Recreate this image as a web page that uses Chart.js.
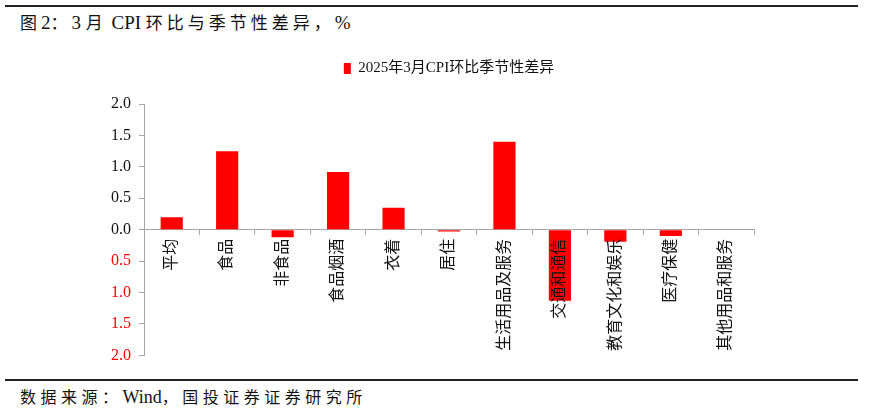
<!DOCTYPE html>
<html>
<head>
<meta charset="utf-8">
<script src="https://cdn.jsdelivr.net/npm/chart.js@4"></script>
<style>
  html, body { margin: 0; padding: 0; background: #fff; overflow: hidden; }
  body { width: 875px; height: 410px; position: relative; font-family: "Liberation Serif", "Noto Sans CJK SC", serif; }
  .rule { position: absolute; left: 5px; width: 853px; height: 2px; background: #222; }
  #title { position: absolute; left: 20px; top: 9px; font-size: 17px; color: #111; white-space: pre; }
  #title .cj { letter-spacing: 4px; }
  #title .la { font-size: 19px; }
  #source { position: absolute; left: 20px; top: 384px; font-size: 16px; color: #111; white-space: pre; }
  #source .cj { letter-spacing: 4.5px; }
  #source .la { font-size: 18px; }
  #wrap { position: absolute; left: 0; top: 51px; width: 875px; height: 322px; }
</style>
</head>
<body>
<div class="rule" style="top:5px"></div>
<div id="title"><span class="cj">图</span><span class="la">2</span><span class="cj">：</span><span class="la">3 </span><span class="cj">月</span><span class="la"> CPI </span><span class="cj">环比与季节性差异，</span><span class="la">%</span></div>
<div id="wrap"><canvas id="cpiChart"></canvas></div>
<div class="rule" style="top:379px"></div>
<div id="source"><span class="cj">数据来源：</span><span class="la">Wind</span><span class="cj">，国投证券证券研究所</span></div>
<script>
const categories = ['平均', '食品', '非食品', '食品烟酒', '衣着', '居住', '生活用品及服务', '交通和通信', '教育文化和娱乐', '医疗保健', '其他用品和服务'];
const seasonalDiff = [0.20, 1.25, -0.12, 0.92, 0.35, -0.03, 1.40, -1.13, -0.19, -0.10, 0.00];
const seriesName = '2025年3月CPI环比季节性差异';
const yTicks = [-2, -1.5, -1, -0.5, 0, 0.5, 1, 1.5, 2];

const serif = '"Liberation Serif", "Noto Sans CJK SC", serif';

function createDiffChart(canvasId) {
    const ctx = document.getElementById(canvasId)?.getContext('2d');
    if (!ctx) return;

    new Chart(ctx, {
        type: 'bar',
        data: {
            labels: categories,
            datasets: [{
                label: seriesName,
                data: seasonalDiff,
                backgroundColor: '#ff0000',
                borderWidth: 0,
                barPercentage: 1,
                categoryPercentage: 0.4,
            }],
        },
        options: {
            responsive: true,
            maintainAspectRatio: false,
            animation: false,
            layout: {
                padding: { top: 0, bottom: 15, left: 104, right: 121 }
            },
            plugins: {
                tooltip: { enabled: false },
                legend: {
                    position: 'top',
                    fullSize: false,
                    labels: {
                        boxWidth: 7,
                        boxHeight: 11,
                        padding: 10,
                        color: '#111',
                        font: { family: serif, size: 15 }
                    }
                },
                // empty title used only as a gap under the legend
                title: {
                    display: true,
                    text: '',
                    position: 'top',
                    fullSize: false,
                    weight: 500,
                    font: { size: 10, lineHeight: 1 },
                    padding: { top: 0, bottom: 8 }
                }
            },
            scales: {
                x: {
                    position: { y: 0 },
                    afterFit: (scale) => { scale.height = 0; },
                    grid: {
                        drawOnChartArea: false,
                        color: '#a6a6a6',
                        tickLength: 5,
                        offset: true
                    },
                    border: { color: '#a6a6a6' },
                    ticks: {
                        z: 1,
                        autoSkip: false,
                        minRotation: 90,
                        maxRotation: 90,
                        padding: 4,
                        color: '#111',
                        font: { family: serif, size: 16 }
                    }
                },
                y: {
                    min: -2,
                    max: 2,
                    afterFit: (scale) => { scale.width = 40; },
                    afterBuildTicks: (scale) => { scale.ticks = yTicks.map(v => ({ value: v })); },
                    grid: {
                        drawOnChartArea: false,
                        color: '#a6a6a6',
                        tickLength: 5
                    },
                    border: { color: '#a6a6a6' },
                    ticks: {
                        padding: 8,
                        color: (c) => c.tick && c.tick.value < 0 ? '#ff0000' : '#111',
                        callback: (v) => Math.abs(v).toFixed(1),
                        font: { family: serif, size: 16 }
                    }
                }
            }
        }
    });
}

document.addEventListener('DOMContentLoaded', function () {
    createDiffChart('cpiChart');
});
</script>
</body>
</html>
